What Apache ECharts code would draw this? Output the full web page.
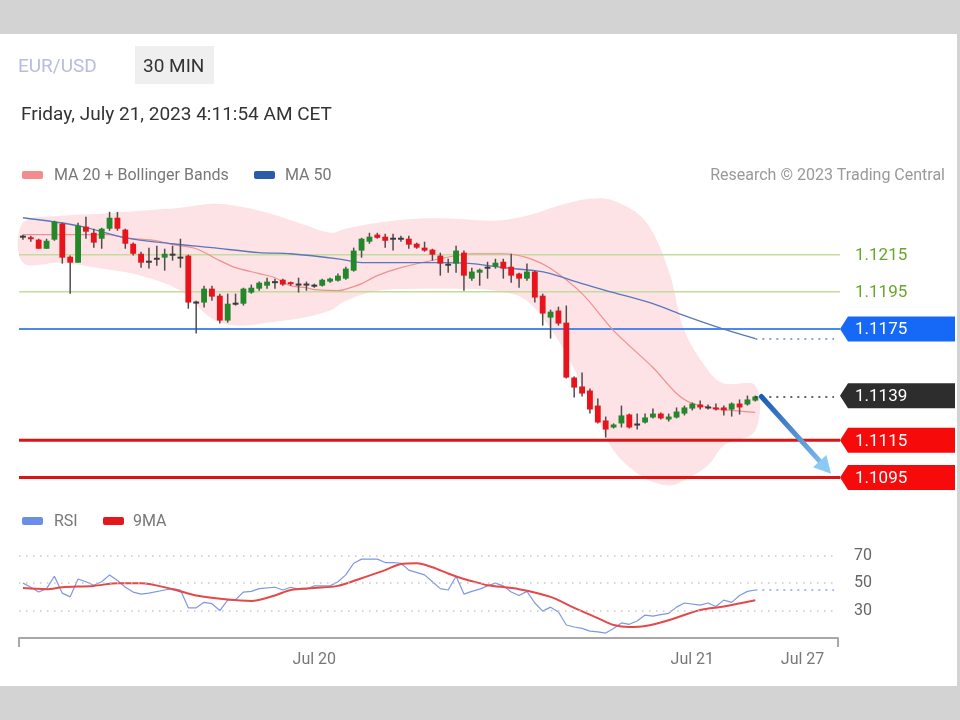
<!DOCTYPE html>
<html><head><meta charset="utf-8">
<script src="https://cdn.jsdelivr.net/npm/echarts@6/dist/echarts.min.js"></script>
<style>
html,body{margin:0;padding:0;width:960px;height:720px;background:#d3d3d3;overflow:hidden;font-family:Roboto,sans-serif}
#card{position:absolute;left:0;top:34px;width:957px;height:652px;background:#fff}
#chart{position:absolute;left:0;top:0;width:960px;height:720px}
</style></head><body>
<div id="card"></div>
<div id="chart"></div>
<script>
// ---- candles (30 min) ----
const opens  = [1.12247,1.12241,1.12231,1.12182,1.12231,1.12317,1.12139,1.12107,1.12301,1.12268,1.12236,1.12290,1.12349,1.12285,1.12209,1.12155,1.12112,1.12128,1.12134,1.12150,1.12134,1.12145,1.11892,1.11892,1.11967,1.11929,1.11795,1.11886,1.11886,1.11946,1.11967,1.11983,1.12002,1.12015,1.11999,1.11989,1.11989,1.11983,1.11983,1.12005,1.12010,1.12021,1.12064,1.12172,1.12220,1.12258,1.12247,1.12236,1.12236,1.12236,1.12209,1.12188,1.12177,1.12145,1.12096,1.12102,1.12161,1.12021,1.12053,1.12080,1.12085,1.12112,1.12085,1.12048,1.12021,1.12059,1.11929,1.11811,1.11849,1.11784,1.11488,1.11440,1.11418,1.11337,1.11257,1.11219,1.11241,1.11289,1.11235,1.11246,1.11273,1.11294,1.11262,1.11273,1.11294,1.11321,1.11343,1.11327,1.11327,1.11327,1.11316,1.11348,1.11343,1.11364];
const closes = [1.12247,1.12236,1.12182,1.12225,1.12328,1.12134,1.12107,1.12306,1.12274,1.12215,1.12290,1.12349,1.12290,1.12209,1.12155,1.12107,1.12112,1.12128,1.12155,1.12150,1.12134,1.11892,1.11892,1.11967,1.11924,1.11795,1.11886,1.11886,1.11967,1.11972,1.11999,1.12005,1.12002,1.11989,1.11994,1.11989,1.11989,1.11983,1.12015,1.12021,1.12037,1.12075,1.12172,1.12236,1.12247,1.12241,1.12225,1.12236,1.12236,1.12204,1.12188,1.12172,1.12150,1.12102,1.12096,1.12172,1.12037,1.12059,1.12069,1.12080,1.12107,1.12075,1.12037,1.12021,1.12059,1.11919,1.11833,1.11843,1.11779,1.11488,1.11434,1.11402,1.11316,1.11246,1.11208,1.11235,1.11284,1.11219,1.11235,1.11273,1.11294,1.11268,1.11278,1.11305,1.11327,1.11348,1.11327,1.11327,1.11316,1.11311,1.11348,1.11327,1.11370,1.11386];
const lows   = [1.12231,1.12220,1.12182,1.12182,1.12225,1.12102,1.11940,1.12107,1.12236,1.12188,1.12182,1.12279,1.12279,1.12182,1.12145,1.12080,1.12075,1.12091,1.12064,1.12118,1.12080,1.11859,1.11725,1.11865,1.11902,1.11779,1.11784,1.11876,1.11876,1.11940,1.11956,1.11967,1.11967,1.11983,1.11983,1.11946,1.11956,1.11972,1.11978,1.11999,1.12005,1.12015,1.12059,1.12134,1.12209,1.12236,1.12188,1.12172,1.12220,1.12182,1.12182,1.12166,1.12118,1.12037,1.12053,1.12053,1.11956,1.12010,1.11983,1.12021,1.12075,1.12021,1.11999,1.11972,1.12010,1.11892,1.11768,1.11698,1.11768,1.11483,1.11380,1.11386,1.11294,1.11241,1.11165,1.11214,1.11219,1.11214,1.11208,1.11241,1.11268,1.11262,1.11251,1.11268,1.11284,1.11311,1.11316,1.11316,1.11311,1.11284,1.11278,1.11289,1.11337,1.11359];
const highs  = [1.12258,1.12252,1.12236,1.12236,1.12333,1.12322,1.12145,1.12322,1.12354,1.12290,1.12295,1.12381,1.12381,1.12290,1.12215,1.12166,1.12188,1.12198,1.12182,1.12198,1.12236,1.12150,1.11902,1.11983,1.11983,1.11940,1.11940,1.11940,1.11972,1.11989,1.12005,1.12026,1.12021,1.12021,1.12005,1.12026,1.12005,1.11994,1.12021,1.12026,1.12048,1.12085,1.12188,1.12241,1.12268,1.12268,1.12263,1.12263,1.12252,1.12252,1.12215,1.12220,1.12182,1.12161,1.12128,1.12198,1.12172,1.12080,1.12075,1.12112,1.12128,1.12128,1.12155,1.12053,1.12102,1.12064,1.11940,1.11854,1.11870,1.11876,1.11494,1.11515,1.11429,1.11375,1.11278,1.11241,1.11337,1.11294,1.11294,1.11294,1.11321,1.11300,1.11294,1.11327,1.11337,1.11354,1.11364,1.11343,1.11348,1.11337,1.11354,1.11370,1.11391,1.11391];

// ---- MA 20 (candle index, price) ----
const ma20Idx = [0,5,11,13,17,19,22,25,27,30,32,34,36,37,40,42,43,45,48,53,57,61,64,67,71,75,80,83,85,88,93];
const ma20Val = [1.12258,1.12258,1.12258,1.12241,1.12225,1.12204,1.12182,1.12118,1.12080,1.12048,1.12026,1.11983,1.11972,1.11962,1.11956,1.11978,1.11994,1.12037,1.12080,1.12128,1.12155,1.12155,1.12134,1.12075,1.11940,1.11741,1.11542,1.11402,1.11348,1.11321,1.11300];
// ---- MA 50 ----
const ma50Idx = [0,7,13,19,24,30,34,40,43,53,57,61,65,67,71,75,80,84,88,93];
const ma50Val = [1.12349,1.12306,1.12241,1.12209,1.12188,1.12161,1.12155,1.12128,1.12107,1.12107,1.12102,1.12080,1.12064,1.12048,1.11994,1.11946,1.11886,1.11822,1.11763,1.11698];
// ---- Bollinger bands ----
const bandIdx   = [0,5,10,15,20,24,27,31,35,39,41,45,50,55,60,64,68,72,75,79,82,84,87,89,93];
const bandUpper = [1.12322,1.12360,1.12371,1.12387,1.12403,1.12424,1.12414,1.12376,1.12322,1.12268,1.12290,1.12322,1.12344,1.12344,1.12333,1.12360,1.12414,1.12451,1.12441,1.12333,1.12064,1.11741,1.11526,1.11456,1.11445];
const bandLower = [1.12107,1.12107,1.12075,1.12037,1.11956,1.11806,1.11768,1.11784,1.11806,1.11849,1.11902,1.11956,1.11967,1.11967,1.11956,1.11902,1.11687,1.11364,1.11095,1.10945,1.10907,1.10934,1.11015,1.11122,1.11203];
// ---- price levels ----
const levels = [1.1215, 1.1195, 1.1175, 1.1139, 1.1115, 1.1095];
const arrowTarget = 1.1097;
// ---- RSI ----
const rsiIdx = [0,1,2,3,4,5,6,7,8,9,10,11,12,13,14,15,16,18,19,20,21,22,23,24,25,26,27,28,29,30,32,33,34,35,36,37,39,40,41,42,43,45,46,47,48,49,51,52,53,54,55,56,57,58,59,60,61,62,63,64,65,66,67,68,69,70,71,72,73,74,75,76,77,78,79,80,81,82,83,84,86,87,88,89,90,91,92,93];
const rsiVal = [50,47,43.5,46,55,42.7,40,53,51,48.5,51,56,52,47,43.5,42,42.7,45,46,45,32,32,36,35,30,37.6,38,43.5,44,46,47,45,47,45.6,45.6,48,48,51,56,64.5,67.5,67.5,65,65,64.5,59.5,56,51,46,45,55,42,44,45.6,48,50,48,43.5,41,44,35.5,29.6,32.5,29,19.5,18,17,15,14.5,13.6,17,21,20,22.4,26.7,26,27,28,32.5,35.5,34,35.5,33,37.6,36,41,44,45];
const ma9Idx = [0,3,5,9,12,15,19,22,26,29,32,34,37,40,43,46,48,50,52,54,56,58,59,63,67,70,73,75,77,79,82,86,89,93];
const ma9Val = [46.4,45.6,47,48,50,50,45.6,41,38,37,41,45,46.4,48,53.6,59.5,64,64.5,61.6,57,53,50,48.5,45.6,40,32,24.5,19.5,18,18.7,23,30.4,33,37.5];
const rsiLevels = [70, 50, 30];
// ---- x axis ----
const slotCount = 104;
const tickIdx  = [37, 85, 99];
const tickText = ['Jul 20', 'Jul 21', 'Jul 27'];

// ================= build =================
const cats = Array.from({length: slotCount}, (_, i) => String(i));
const lastI = opens.length - 1;
const candleData = opens.map((o, i) => [i, o, closes[i], lows[i], highs[i]]);
const pairs = (xs, ys) => xs.map((x, i) => [x, ys[i]]);
const GL = 19, GR = 122;
const FONT = 'Roboto, sans-serif';

function renderCandle(params, api) {
  const i = api.value(0), o = api.value(1), c = api.value(2), l = api.value(3), h = api.value(4);
  const pO = api.coord([i, o]), pC = api.coord([i, c]), pL = api.coord([i, l]), pH = api.coord([i, h]);
  const w = api.size([1, 0])[0] * 0.74;
  const x = pO[0];
  const doji = Math.abs(o - c) < 0.00004;
  const col = doji ? '#3a3a3a' : (c > o ? '#22882a' : '#e8141c');
  let top = Math.min(pO[1], pC[1]);
  let hg = Math.abs(pO[1] - pC[1]);
  if (hg < 2) { top = (pO[1] + pC[1]) / 2 - 1; hg = 2; }
  return {type: 'group', children: [
    {type: 'line', shape: {x1: x, y1: pH[1], x2: x, y2: pL[1]}, style: {stroke: '#4d4d4d', lineWidth: 1.5}},
    {type: 'rect', shape: {x: x - w / 2, y: top, width: w, height: hg}, style: {fill: col}}
  ]};
}

function renderBand(params, api) {
  const up = bandIdx.map((k, j) => api.coord([k, bandUpper[j]]));
  const lo = bandIdx.map((k, j) => api.coord([k, bandLower[j]])).reverse();
  return {type: 'polygon', shape: {points: up.concat(lo), smooth: 0.35}, style: {fill: '#fde2e6'}};
}

const levelStyle = [
  {line: '#c3dc9c', lw: 1.5, text: '#69a62c'},
  {line: '#c3dc9c', lw: 1.5, text: '#69a62c'},
  {line: '#4d88ee', lw: 2, tag: '#1668f6', text: '#ffffff'},
  {tag: '#2d2d2d', text: '#ffffff'},
  {line: '#dd1414', lw: 3, tag: '#f70a0a', text: '#ffffff'},
  {line: '#dd1414', lw: 3, tag: '#f70a0a', text: '#ffffff'}
];
function renderLevel(params, api) {
  const k = params.dataIndex;
  const price = api.value(1);
  const cs = params.coordSys;
  const y = api.coord([0, price])[1];
  const st = levelStyle[k];
  const xr = cs.x + cs.width;
  const ch = [];
  if (st.line) ch.push({type: 'line', shape: {x1: cs.x, y1: y, x2: xr + 2, y2: y}, style: {stroke: st.line, lineWidth: st.lw}});
  if (st.tag) ch.push({type: 'polygon', shape: {points: [[xr + 2, y], [xr + 10, y - 12.5], [xr + 117, y - 12.5], [xr + 117, y + 12.5], [xr + 10, y + 12.5]]}, style: {fill: st.tag}});
  ch.push({type: 'text', style: {text: price.toFixed(4), x: xr + 17, y: y + 1, verticalAlign: 'middle', font: '17px ' + FONT, fill: st.text}});
  return {type: 'group', children: ch};
}

function renderArrow(params, api) {
  const s = api.coord([api.value(0), api.value(1)]);
  const e = api.coord([api.value(2), api.value(3)]);
  s[0] += 6; e[0] -= 3;
  const dx = e[0] - s[0], dy = e[1] - s[1], len = Math.hypot(dx, dy), ux = dx / len, uy = dy / len;
  const headL = 17, headW = 9;
  const bx = e[0] - ux * headL, by = e[1] - uy * headL;
  const grad = new echarts.graphic.LinearGradient(s[0], s[1], e[0], e[1], [{offset: 0, color: '#1d5bb5'}, {offset: 1, color: '#8cc8f4'}], true);
  return {type: 'group', children: [
    {type: 'line', shape: {x1: s[0], y1: s[1], x2: bx, y2: by}, style: {stroke: grad, lineWidth: 5, lineCap: 'round'}},
    {type: 'polygon', shape: {points: [[e[0], e[1]], [bx - uy * headW, by + ux * headW], [bx + uy * headW, by - ux * headW]]}, style: {fill: '#8ccaf4'}}
  ]};
}

const txt = (text, x, y, size, color, align) => ({type: 'text', x: x, y: y, style: {text: text, font: size + 'px ' + FONT, fill: color, align: align || 'left', verticalAlign: 'middle'}});
const sw = (x, y, color) => ({type: 'rect', shape: {x: x, y: y - 4, width: 21, height: 8, r: 2}, style: {fill: color}});

const chart = echarts.init(document.getElementById('chart'), null, {renderer: 'canvas'});
chart.setOption({
  animation: false,
  grid: [
    {left: GL, right: GR, top: 199, height: 297},
    {left: GL, right: GR, top: 542, height: 96}
  ],
  xAxis: [
    {type: 'category', data: cats, gridIndex: 0, show: false, boundaryGap: true},
    {type: 'category', data: cats, gridIndex: 1, boundaryGap: true,
     axisLine: {onZero: false, lineStyle: {color: '#a8a8a8', width: 2}},
     axisTick: {show: false}, splitLine: {show: false},
     axisLabel: {interval: 0, margin: 14, color: '#777', fontSize: 16, fontFamily: FONT,
       formatter: (v, i) => { const k = tickIdx.indexOf(i); return k >= 0 ? tickText[k] : ''; }}}
  ],
  yAxis: [
    {type: 'value', gridIndex: 0, min: 1.1085, max: 1.1245, show: false},
    {type: 'value', gridIndex: 1, min: 10, max: 80, show: false}
  ],
  graphic: [
    txt('EUR/USD', 18, 67, 19, '#b9bcdc'),
    {type: 'rect', shape: {x: 135, y: 46, width: 79, height: 38}, style: {fill: '#efefef'}},
    txt('30 MIN', 143, 67, 19, '#333'),
    txt('Friday, July 21, 2023 4:11:54 AM CET', 21, 115, 19, '#333'),
    sw(22, 175, '#f38c8c'), txt('MA 20 + Bollinger Bands', 54, 176, 16, '#777'),
    sw(254, 175, '#2b5aa6'), txt('MA 50', 285, 176, 16, '#777'),
    txt('Research \u00a9 2023 Trading Central', 945, 176, 16, '#999', 'right'),
    sw(22, 521, '#6b8fe6'), txt('RSI', 54, 522, 16, '#777'),
    sw(103, 521, '#e5161c'), txt('9MA', 133, 522, 16, '#777'),
    {type: 'line', shape: {x1: GL, y1: 638, x2: GL, y2: 647}, style: {stroke: '#a8a8a8', lineWidth: 2}},
    {type: 'line', shape: {x1: 960 - GR, y1: 638, x2: 960 - GR, y2: 647}, style: {stroke: '#a8a8a8', lineWidth: 2}}
  ],
  series: [
    {type: 'custom', name: 'band', xAxisIndex: 0, yAxisIndex: 0, clip: false, z: 1,
     data: [[0, bandUpper[0]]], encode: {x: 0, y: 1}, renderItem: renderBand},
    {type: 'custom', name: 'levels', xAxisIndex: 0, yAxisIndex: 0, clip: false, z: 2,
     data: levels.map(p => [0, p]), encode: {x: 0, y: 1}, renderItem: renderLevel},
    {type: 'line', name: 'MA 20', xAxisIndex: 0, yAxisIndex: 0, z: 3, smooth: 0.3, symbol: 'none',
     data: pairs(ma20Idx, ma20Val), lineStyle: {color: '#f09090', width: 1.2}},
    {type: 'line', name: 'MA 50', xAxisIndex: 0, yAxisIndex: 0, z: 3, smooth: 0.3, symbol: 'none',
     data: pairs(ma50Idx, ma50Val), lineStyle: {color: '#5a78b8', width: 1.3},
     markLine: {silent: true, symbol: 'none', label: {show: false},
       lineStyle: {color: '#7088b8', type: [2, 5], width: 1.5},
       data: [[{coord: [lastI, ma50Val[ma50Val.length - 1]]}, {coord: [slotCount - 1, ma50Val[ma50Val.length - 1]]}]]}},
    {type: 'custom', name: 'candles', xAxisIndex: 0, yAxisIndex: 0, z: 4,
     data: candleData, encode: {x: 0, y: [1, 2, 3, 4]}, renderItem: renderCandle,
     markLine: {silent: true, symbol: 'none', label: {show: false},
       lineStyle: {color: '#333', type: [2, 5], width: 1.5},
       data: [[{coord: [lastI, closes[lastI]]}, {coord: [slotCount - 1, closes[lastI]]}]]}},
    {type: 'custom', name: 'arrow', xAxisIndex: 0, yAxisIndex: 0, clip: false, z: 5,
     data: [[lastI, closes[lastI], slotCount - 1, arrowTarget]], encode: {x: [0, 2], y: [1, 3]}, renderItem: renderArrow},
    {type: 'line', name: 'RSI', xAxisIndex: 1, yAxisIndex: 1, z: 3, symbol: 'none',
     data: pairs(rsiIdx, rsiVal), lineStyle: {color: '#7f98e2', width: 1.2},
     markLine: {silent: true, symbol: 'none',
       data: rsiLevels.map(v => ({yAxis: v, lineStyle: {color: '#c8c8c8', type: [1.5, 5.5], width: 1.5},
         label: {show: true, position: 'end', distance: 16, formatter: String(v), color: '#666', fontSize: 16, fontFamily: FONT}}))
         .concat([[{coord: [lastI, rsiVal[rsiVal.length - 1]], lineStyle: {color: '#8ea4e6', type: [2, 5], width: 1.5}, label: {show: false}},
                   {coord: [slotCount - 1, rsiVal[rsiVal.length - 1]]}]])}},
    {type: 'line', name: '9MA', xAxisIndex: 1, yAxisIndex: 1, z: 4, smooth: 0.3, symbol: 'none',
     data: pairs(ma9Idx, ma9Val), lineStyle: {color: '#e54848', width: 2}}
  ]
});
</script>
</body></html>
